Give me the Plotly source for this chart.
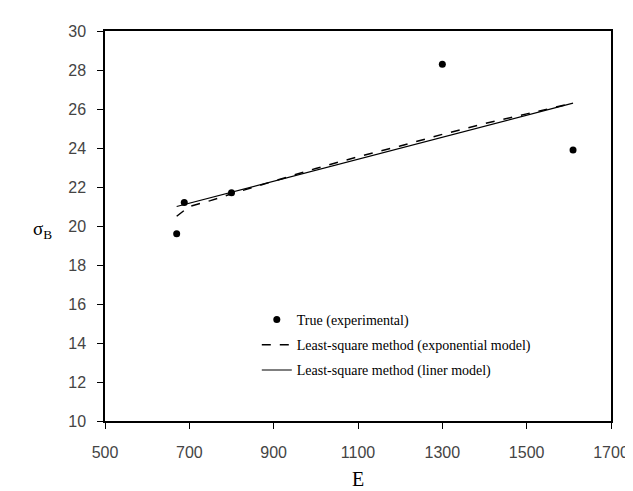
import plotly.graph_objects as go

# Experimental points
E_exp = [670, 688, 800, 1300, 1610]
sigma_exp = [19.6, 21.2, 21.7, 28.3, 23.9]

# Least-square, exponential model
E_expo = [670, 700, 750, 800, 900, 1000, 1100, 1200, 1300, 1400, 1500, 1610]
sigma_expo = [20.5, 21.0, 21.3, 21.65, 22.3, 22.95, 23.55, 24.1, 24.7, 25.25, 25.75, 26.3]

# Least-square, linear model
E_lin = [670, 1610]
sigma_lin = [21.0, 26.3]

x_ticks = [500, 700, 900, 1100, 1300, 1500, 1700]
y_ticks = [10, 12, 14, 16, 18, 20, 22, 24, 26, 28, 30]

fig = go.Figure()
fig.add_trace(go.Scatter(x=E_exp, y=sigma_exp, mode="markers",
                         marker=dict(color="black", size=7),
                         legendgroup="a",
                         name="True (experimental)"))
fig.add_trace(go.Scatter(x=E_expo, y=sigma_expo, mode="lines",
                         line=dict(color="black", width=1.5, dash="dash"),
                         legendgroup="b",
                         name="Least-square method (exponential model)"))
fig.add_trace(go.Scatter(x=E_lin, y=sigma_lin, mode="lines",
                         line=dict(color="black", width=1.2),
                         legendgroup="c",
                         name="Least-square method (liner model)"))

axis_common = dict(showline=True, linecolor="black", linewidth=1.5, mirror=True,
                   ticks="outside", ticklen=6, tickcolor="black", showgrid=False,
                   zeroline=False,
                   tickfont=dict(family="Liberation Sans, Arial, sans-serif", size=16, color="#444"))

fig.update_layout(
    width=633, height=491,
    paper_bgcolor="white", plot_bgcolor="white",
    margin=dict(l=97, r=18, t=23, b=74),
    showlegend=True,
    legend=dict(x=0.3, y=0.3, xanchor="left", yanchor="top",
                bgcolor="rgba(0,0,0,0)", traceorder="grouped",
                font=dict(family="Liberation Serif, Times New Roman, serif", size=14, color="black"),
                tracegroupgap=4),
    xaxis=dict(range=[500, 1700], tickvals=x_ticks, ticklabelstandoff=10,
               title=dict(text="E", font=dict(family="Liberation Serif, serif", size=20, color="black"), standoff=12),
               **axis_common),
    yaxis=dict(range=[10, 30], tickvals=y_ticks, ticklabelstandoff=8,
               **axis_common),
    annotations=[dict(text="σ<sub>B</sub>", xref="paper", yref="paper",
                      x=-0.1, y=0.49, xanchor="right", yanchor="middle", showarrow=False,
                      font=dict(family="Liberation Serif, serif", size=19, color="black"))],
)
fig.write_html("out.html")
